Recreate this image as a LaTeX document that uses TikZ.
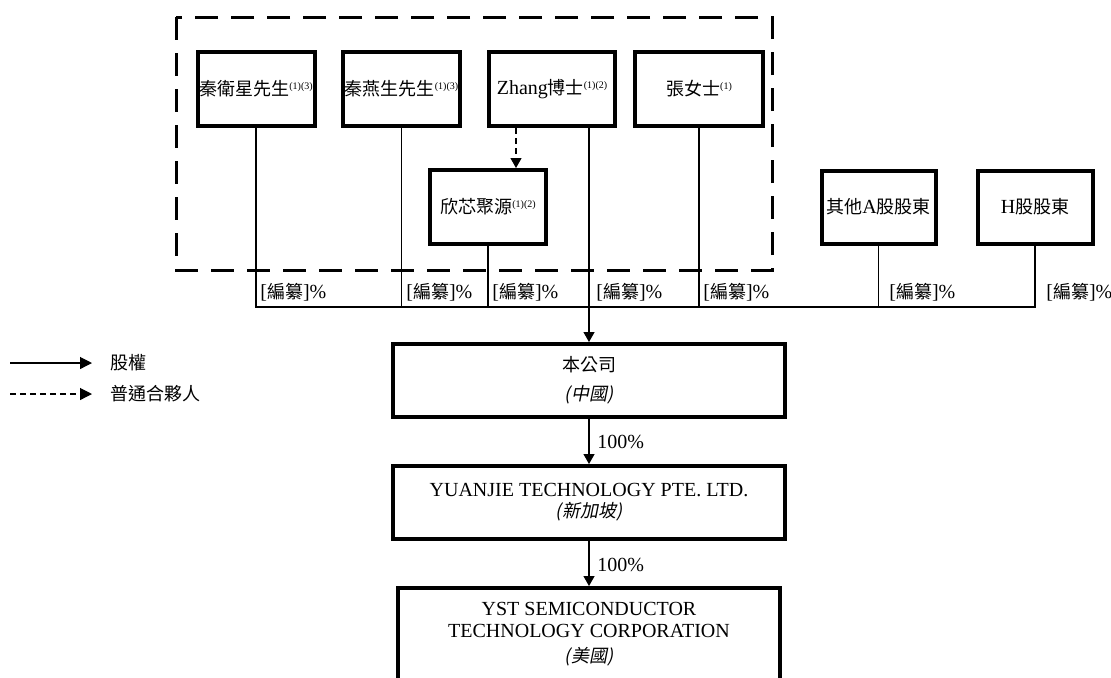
\documentclass[tikz,border=0pt]{standalone}
\usepackage{fontspec}
\setmainfont{Liberation Serif}
\newfontfamily\cjk[Scale=0.9]{Noto Sans CJK TC}
\newfontfamily\cjkit[Scale=0.9,FakeSlant=0.2]{Noto Sans CJK TC}
\usetikzlibrary{arrows.meta}
\newcommand{\fnote}[1]{\raisebox{3pt}{\fontsize{5}{5}\selectfont #1}}
\newcommand{\bzpct}{[{\cjk 編纂}]\%}
\begin{document}
\begin{tikzpicture}[x=0.5pt,y=-0.5pt,
  box/.style={draw=black, line width=2pt, minimum width=#1, minimum height=37pt,
    inner sep=0pt, align=center, font=\fontsize{10}{12}\selectfont},
  box/.default=58.5pt,
  bigbox/.style={draw=black, line width=2pt, minimum width=196pt, minimum height=36.5pt,
    inner sep=0pt, align=center},
  conn/.style={draw=black, line width=0.6pt},
  tip/.style={-{Triangle[width=5.5pt,length=5pt]}},
  gpdash/.style={dash pattern=on 3pt off 2pt},
  lbl/.style={anchor=west, inner sep=0pt, font=\fontsize{10}{12}\selectfont},
  grpbox/.style={draw=black, line width=1.5pt, dash pattern=on 11.5pt off 6.5pt}
]
\useasboundingbox (0,0) rectangle (1111,677);

% top row
\node[box=58.5pt] (b1) at (256,89) {{\cjk 秦衛星先生}\fnote{(1)(3)}};
\node[box=58.5pt] (b2) at (401.5,89) {{\cjk 秦燕生先生}\fnote{(1)(3)}};
\node[box=63pt] (b3) at (552,89) {Zhang{\cjk 博士}\fnote{(1)(2)}};
\node[box=64pt] (b4) at (699,89) {{\cjk 張女士}\fnote{(1)}};
\node[box=58pt] (b5) at (488,207) {{\cjk 欣芯聚源}\fnote{(1)(2)}};
\node[box=57pt, minimum height=36.5pt] (b6) at (878.5,207) {{\cjk 其他}A{\cjk 股股東}};
\node[box=57.5pt, minimum height=36.5pt] (b7) at (1035,207) {H{\cjk 股股東}};

% dashed group
\draw[grpbox] (176,17) rectangle (772,270);

% bus
\coordinate (busL) at (256,307);
\coordinate (busR) at (1035,307);
\draw[conn] (b1.south) -- (b1.south |- busL) -- (busR) -- (b7.south);
\draw[conn] (b2.south) -- (b2.south |- busL);
\draw[conn] (b4.south) -- (b4.south |- busL);
\draw[conn] (b5.south) -- (b5.south |- busL);
\draw[conn] (b6.south) -- (b6.south |- busL);

% general partner
\draw[conn, gpdash, tip] ([xshift=-18pt]b3.south) -- ([xshift=-18pt]b3.south |- b5.north);

% labels
\node[lbl] (l1) at (260,292) {\bzpct};
\node[lbl] (l2) at (406,292) {\bzpct};
\node[lbl] (l3) at (492,292) {\bzpct};
\node[lbl] (l4) at (596,292) {\bzpct};
\node[lbl] (l5) at (703,292) {\bzpct};
\node[lbl] (l6) at (889,292) {\bzpct};
\node[lbl] (l7) at (1046,292) {\bzpct};

% company chain
\node[bigbox, font=\fontsize{10}{14.5}\selectfont] (c1) at (589,380.5) {{\cjk 本公司}\\{\cjkit (中國)}};
\node[bigbox, font=\fontsize{10}{10.5}\selectfont] (c2) at (589,502.5) {YUANJIE TECHNOLOGY PTE. LTD.\\{\cjkit (新加坡)}};
\node[bigbox, minimum width=191pt, minimum height=70pt, anchor=north] (c3) at (589,586) {};
\node[align=center, inner sep=0pt, font=\fontsize{10}{11}\selectfont] (c3t) at (589,634)
  {YST SEMICONDUCTOR\\TECHNOLOGY CORPORATION\\[1.5pt]{\cjkit (美國)}};

\draw[conn, tip] (b3.south -| c1.north) -- (c1.north);
\draw[conn, tip] (c1.south) -- (c2.north);
\draw[conn, tip] (c2.south) -- (c3.north);
\node[lbl] (p1) at (597,442) {100\%};
\node[lbl] (p2) at (597,565) {100\%};

% legend
\coordinate (g1) at (10,363);
\coordinate (g2) at (10,394);
\node[anchor=west, inner xsep=9pt, inner ysep=0pt, font=\fontsize{10}{12}\selectfont] (leg1) at (92,363) {\cjk 股權};
\node[anchor=west, inner xsep=9pt, inner ysep=0pt, font=\fontsize{10}{12}\selectfont] (leg2) at (92,394) {\cjk 普通合夥人};
\draw[conn, -{Triangle[width=6pt,length=6pt]}] (g1) -- (leg1.west);
\draw[conn, gpdash, -{Triangle[width=6pt,length=6pt]}] (g2) -- (leg2.west);
\end{tikzpicture}
\end{document}
